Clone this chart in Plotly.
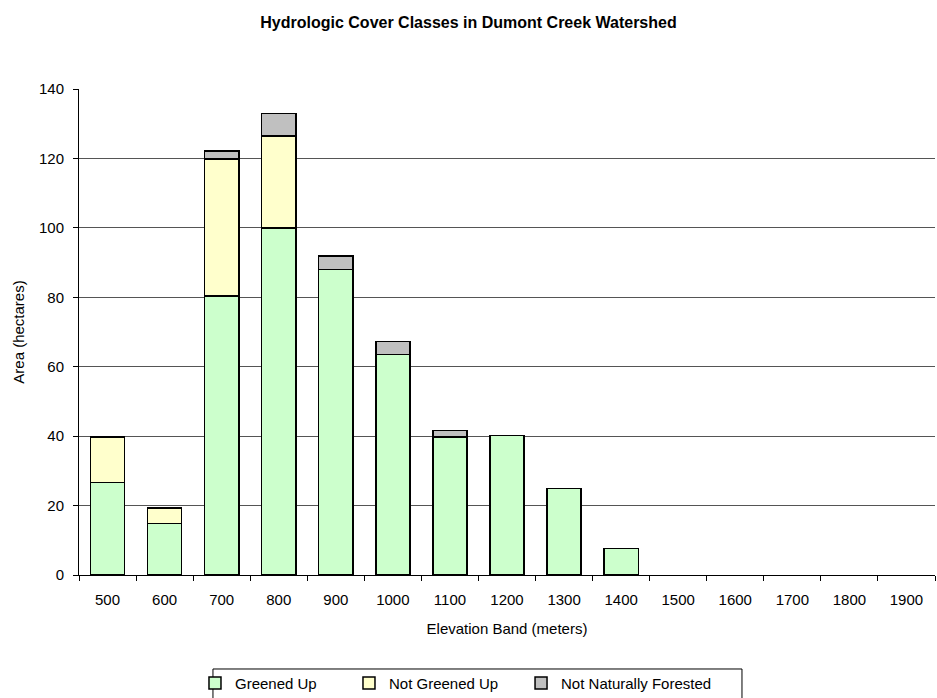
import plotly.graph_objects as go

bands = ['500', '600', '700', '800', '900', '1000', '1100', '1200', '1300',
         '1400', '1500', '1600', '1700', '1800', '1900']
greened_up = [26.7, 14.9, 80.3, 100.0, 88.0, 63.5, 39.7, 40.2, 24.9, 7.6,
              None, None, None, None, None]
not_greened_up = [13.0, 4.4, 39.6, 26.4, None, None, None, None, None, None,
                  None, None, None, None, None]
not_forested = [None, None, 2.2, 6.5, 3.9, 3.7, 1.9, None, None, None,
                None, None, None, None, None]

FONT = "Liberation Sans, Arial, sans-serif"
FS = 15

fig = go.Figure()
series = [('Greened Up', greened_up, '#CCFFCC', 'legend'),
          ('Not Greened Up', not_greened_up, '#FFFFCC', 'legend2'),
          ('Not Naturally Forested', not_forested, '#C0C0C0', 'legend3')]
for name, vals, color, lg in series:
    fig.add_trace(go.Bar(x=bands, y=vals, name=name, legend=lg, showlegend=True,
                         marker=dict(color=color, line=dict(color='black', width=1.5))))

# one legend per entry so the entries can sit like Excel's legend columns
legend_common = dict(orientation='h', xanchor='left', y=-0.189, yanchor='top',
                     borderwidth=0, bgcolor='rgba(0,0,0,0)',
                     font=dict(family=FONT, size=FS))

fig.update_layout(
    showlegend=True,
    barmode='stack',
    bargap=0.4,
    width=937, height=698,
    margin=dict(l=79, r=2, t=89, b=123, autoexpand=False),
    paper_bgcolor='white', plot_bgcolor='white',
    font=dict(family=FONT, size=FS, color='black'),
    title=dict(text='<b>Hydrologic Cover Classes in Dumont Creek Watershed</b>',
               x=0.5, xanchor='center', y=0.968, yanchor='middle',
               font=dict(family=FONT, size=16, color='black')),
    legend=dict(x=0.1355, **legend_common),
    legend2=dict(x=0.3154, **legend_common),
    legend3=dict(x=0.5164, **legend_common),
)

# legend frame
fig.add_shape(type='rect', xref='paper', yref='paper',
              x0=0.1565, x1=0.7745, y0=-0.26, y1=-0.1934,
              line=dict(color='black', width=1), fillcolor='rgba(0,0,0,0)')

fig.update_xaxes(type='category', showline=True, linecolor='black', linewidth=1,
                 ticks='outside', tickson='boundaries', ticklen=5, tickcolor='black',
                 showgrid=False, automargin=False, ticklabelstandoff=11,
                 title=dict(text='Elevation Band (meters)', standoff=16,
                            font=dict(family=FONT, size=FS)))
fig.update_yaxes(range=[0, 140], dtick=20, showline=True, linecolor='black', linewidth=1,
                 ticks='outside', ticklen=5, tickcolor='black', automargin=False,
                 ticklabelstandoff=6,
                 showgrid=True, gridcolor='#555555', gridwidth=1, zeroline=False,
                 title=dict(text='Area (hectares)', standoff=10,
                            font=dict(family=FONT, size=FS)))

fig.write_html("out.html", config={'displayModeBar': False},
               post_script="document.body.style.margin='0';")
